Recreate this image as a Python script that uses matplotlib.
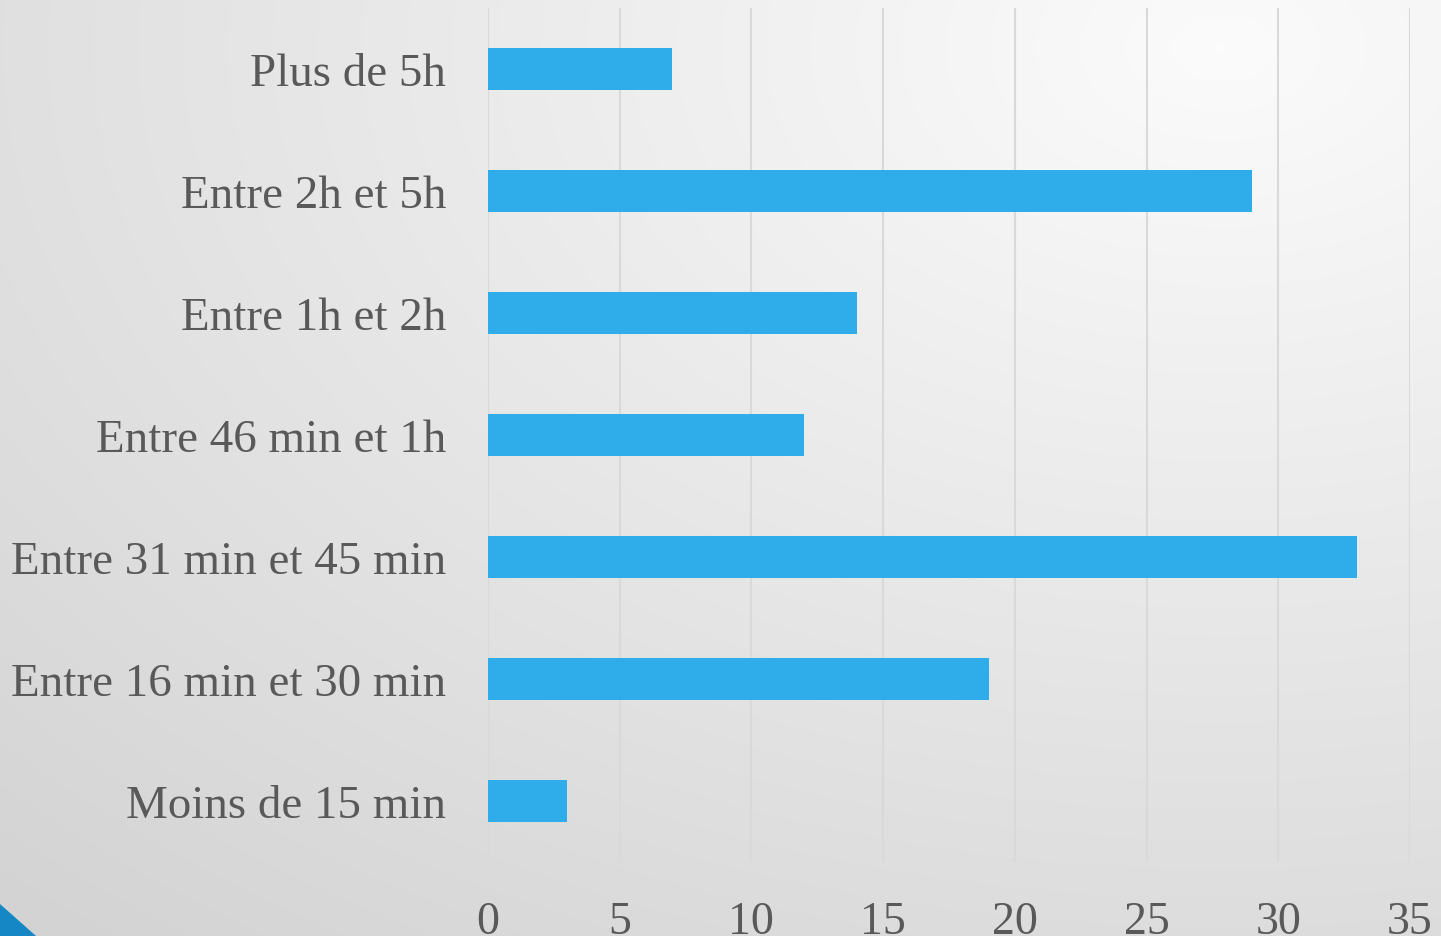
import numpy as np
import matplotlib
matplotlib.use("Agg")
import matplotlib.pyplot as plt
from matplotlib.patches import Polygon

categories = ["Moins de 15 min", "Entre 16 min et 30 min", "Entre 31 min et 45 min",
              "Entre 46 min et 1h", "Entre 1h et 2h", "Entre 2h et 5h", "Plus de 5h"]
values = [3, 19, 33, 12, 14, 29, 7]
xticks = [0, 5, 10, 15, 20, 25, 30, 35]

W, H = 1441, 937
fig = plt.figure(figsize=(W / 100, H / 100), dpi=100)

# background gradient
bg = fig.add_axes([0, 0, 1, 1], zorder=-10)
yy, xx = np.mgrid[0:1:200j, 0:1:300j]
d = np.sqrt(((xx - 0.85) * 1.0) ** 2 + ((yy - 0.95) * 1.0) ** 2)
d = d / d.max()
val = 0.985 - 0.16 * d
img = np.dstack([val, val, val])
bg.imshow(img, extent=[0, 1, 0, 1], origin="lower", aspect="auto", interpolation="bilinear")
bg.set_axis_off()
bg.add_patch(Polygon([[0, 0], [0, 1 - 905 / H], [36 / W, 0]], closed=True,
                     transform=bg.transAxes, facecolor="#1487C4", edgecolor="none"))

ax = fig.add_axes([488 / W, 1 - 863 / H, (1410 - 488) / W, (863 - 9) / H])
ax.patch.set_alpha(0)
y = np.arange(len(categories))
ax.barh(y, values, height=0.35, color="#2FACEA", zorder=3)
ax.set_xlim(0, 35)
ax.set_ylim(-0.5, len(categories) - 0.5)
ax.set_xticks(xticks)
ax.set_yticks(y)
ax.set_yticklabels(categories)
ax.grid(axis="x", color="#D9D9D9", linewidth=1.5, zorder=0)
for s in ax.spines.values():
    s.set_visible(False)
ax.tick_params(axis="both", length=0, colors="#595959")
ax.tick_params(axis="x", pad=28, labelsize=33)
ax.tick_params(axis="y", pad=30, labelsize=33.8)
for lab in ax.get_xticklabels() + ax.get_yticklabels():
    lab.set_fontfamily("Liberation Serif")
    lab.set_color("#595959")

fig.savefig("out.png", dpi=100)
